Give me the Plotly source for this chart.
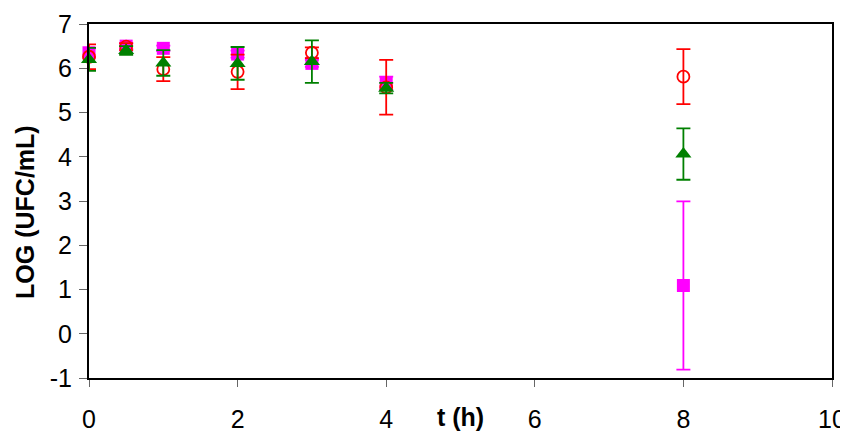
import plotly.graph_objects as go

t = [0, 0.5, 1, 2, 3, 4, 8]

red_y = [6.26, 6.49, 5.98, 5.92, 6.35, 5.57, 5.81]
red_err = [0.28, 0.08, 0.27, 0.39, 0.12, 0.62, 0.62]

green_y = [6.20, 6.40, 6.12, 6.11, 6.15, 5.55, 4.06]
green_err = [0.26, 0.10, 0.29, 0.37, 0.48, 0.12, 0.58]

magenta_y = [6.35, 6.50, 6.45, 6.32, 6.11, 5.66, 1.09]
magenta_err = [0.10, 0.06, 0.06, 0.08, 0.08, 0.15, 1.90]

x_ticks = [0, 2, 4, 6, 8, 10]
y_ticks = [-1, 0, 1, 2, 3, 4, 5, 6, 7]
y_tick_text = ["-1", "0", "1", "2", "3", "4", "5", "6", "7"]

fig = go.Figure()

def add(y, err, color, symbol, size, line_w=0):
    fig.add_trace(go.Scatter(
        x=t, y=y, mode="markers", cliponaxis=False,
        error_y=dict(type="data", array=err, visible=True, color=color, thickness=1.8, width=7),
        marker=dict(symbol=symbol, size=size, color=color,
                    line=dict(color=color, width=line_w)),
        showlegend=False,
    ))

add(magenta_y, magenta_err, "#FF00FF", "square", 13)
add(red_y, red_err, "#FF0000", "circle-open", 12, line_w=1.8)
add(green_y, green_err, "#008000", "triangle-up", 14)

fig.update_layout(
    width=848, height=432,
    margin=dict(l=81, r=24, t=16, b=62, autoexpand=False),
    paper_bgcolor="white", plot_bgcolor="white",
    font=dict(family="Arial, Liberation Sans, sans-serif", size=25, color="black"),
    xaxis=dict(range=[0, 10], tickvals=x_ticks, showgrid=False, zeroline=False,
               showline=True, linecolor="black", linewidth=2, mirror=True,
               ticks="outside", ticklen=7, tickcolor="#666666", tickwidth=1,
               ticklabelstandoff=11),
    yaxis=dict(range=[-1, 7], tickvals=y_ticks, ticktext=y_tick_text,
               showgrid=False, zeroline=False,
               showline=True, linecolor="black", linewidth=2, mirror=True,
               ticks="outside", ticklen=8, tickcolor="#666666", tickwidth=1,
               ticklabelstandoff=2),
    annotations=[
        dict(x=5.0, y=-1, xref="x", yref="y", yshift=-39,
             text="<b>t (h)</b>", showarrow=False,
             font=dict(size=25), xanchor="center", yanchor="middle"),
        dict(x=-0.0862, y=0.469, xref="paper", yref="paper", textangle=-90,
             text="<b>LOG (UFC/mL)</b>", showarrow=False,
             font=dict(size=25), xanchor="center", yanchor="middle"),
    ],
)

fig.write_html("out.html")
